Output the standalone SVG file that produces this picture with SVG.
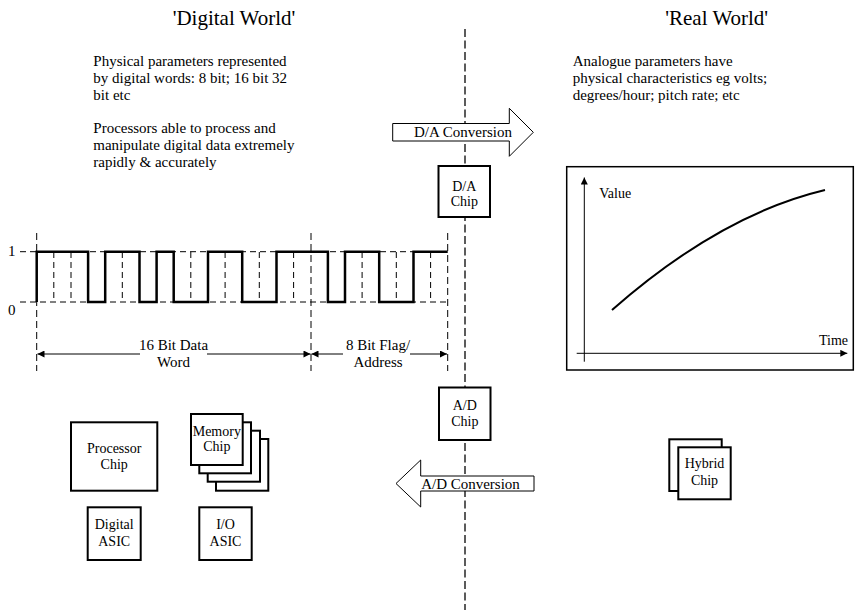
<svg xmlns="http://www.w3.org/2000/svg" width="857" height="610" viewBox="0 0 857 610">
<style>
text{font-family:"Liberation Serif","Times New Roman",serif;fill:#000}
.t21{font-size:21px}
.t15{font-size:15px}
.t14{font-size:14px}
.mid{text-anchor:middle}
.chip{fill:#fff;stroke:#000;stroke-width:2}
.blk{fill:#fff;stroke:#000;stroke-width:1}
.dash{fill:none;stroke:#000;stroke-width:1;stroke-dasharray:6 4}
.vdash{fill:none;stroke:#000;stroke-width:1;stroke-dasharray:7 4}
.dim{fill:none;stroke:#000;stroke-width:1}
</style>
<defs>
<marker id="ah" viewBox="0 0 10 10" refX="10" refY="5" markerWidth="9" markerHeight="7" markerUnits="userSpaceOnUse" orient="auto-start-reverse">
<path d="M0,0 L10,5 L0,10 z" fill="#000"/>
</marker>
</defs>
<rect width="857" height="610" fill="#fff"/>

<g id="divider">
<line x1="465" y1="29" x2="465" y2="610" stroke="#333" stroke-width="1.6" stroke-dasharray="8 3.5"/>
</g>

<g id="titles">
<text class="t21 mid" x="234" y="25">'Digital World'</text>
<text class="t21 mid" x="716.7" y="25">'Real World'</text>
</g>

<g id="digital-notes">
<text class="t15" x="93.3" y="66">Physical parameters represented</text>
<text class="t15" x="93.3" y="83">by digital words: 8 bit; 16 bit 32</text>
<text class="t15" x="93.3" y="100">bit etc</text>
<text class="t15" x="93.3" y="133">Processors able to process and</text>
<text class="t15" x="93.3" y="150">manipulate digital data extremely</text>
<text class="t15" x="93.3" y="167">rapidly &amp; accurately</text>
</g>

<g id="real-notes">
<text class="t15" x="572.7" y="66">Analogue parameters have</text>
<text class="t15" x="572.7" y="83">physical characteristics eg volts;</text>
<text class="t15" x="572.7" y="100">degrees/hour; pitch rate; etc</text>
</g>

<g id="waveform">
<text class="t15" x="8" y="256">1</text>
<text class="t15" x="8" y="315">0</text>
<line class="dash" x1="20" y1="251.7" x2="448" y2="251.7"/>
<line class="dash" x1="20" y1="302" x2="448" y2="302"/>
<g class="vdash">
<line x1="36.7" y1="233" x2="36.7" y2="371"/>
<line x1="311" y1="233" x2="311" y2="371"/>
<line x1="447.7" y1="233" x2="447.7" y2="371"/>
</g>
<g class="dash" stroke-dasharray="5 4">
<line x1="53.8" y1="252" x2="53.8" y2="302"/>
<line x1="71" y1="252" x2="71" y2="302"/>
<line x1="122.3" y1="252" x2="122.3" y2="302"/>
<line x1="190.8" y1="252" x2="190.8" y2="302"/>
<line x1="225.1" y1="252" x2="225.1" y2="302"/>
<line x1="259.3" y1="252" x2="259.3" y2="302"/>
<line x1="293.6" y1="252" x2="293.6" y2="302"/>
<line x1="362.1" y1="252" x2="362.1" y2="302"/>
<line x1="396.3" y1="252" x2="396.3" y2="302"/>
<line x1="430.6" y1="252" x2="430.6" y2="302"/>
</g>
<path d="M36.7,302 V251.7 H88.1 V302 H105.2 V251.7 H139.5 V302 H156.6 V251.7 H173.7 V302 H208 V251.7 H242.2 V302 H276.5 V251.7 H327.9 V302 H345 V251.7 H379.2 V302 H413.5 V251.7 H447.7" fill="none" stroke="#000" stroke-width="2.5" stroke-linejoin="miter"/>
<line class="dim" x1="37.5" y1="354" x2="140" y2="354" marker-start="url(#ah)"/>
<line class="dim" x1="207" y1="354" x2="310.5" y2="354" marker-end="url(#ah)"/>
<line class="dim" x1="311.5" y1="354" x2="343" y2="354" marker-start="url(#ah)"/>
<line class="dim" x1="410" y1="354" x2="447" y2="354" marker-end="url(#ah)"/>
<text class="t15 mid" x="173.5" y="350">16 Bit Data</text>
<text class="t15 mid" x="173.5" y="367">Word</text>
<text class="t15 mid" x="378" y="350">8 Bit Flag/</text>
<text class="t15 mid" x="378" y="367">Address</text>
</g>

<g id="connectors">
<g id="da-conversion">
<polygon class="blk" points="392.7,123.5 509.3,123.5 509.3,108.3 533.3,132.3 509.3,156.3 509.3,141 392.7,141"/>
<text class="t15 mid" x="463" y="137.3">D/A Conversion</text>
</g>
<g id="ad-conversion">
<polygon class="blk" points="396,483.5 420.7,460 420.7,476 534,476 534,491 420.7,491 420.7,507"/>
<text class="t15 mid" x="470.5" y="489">A/D Conversion</text>
</g>
</g>

<g id="da-chip">
<rect class="chip" x="438.5" y="166" width="51.5" height="51"/>
<text class="t14 mid" x="464.3" y="191">D/A</text>
<text class="t14 mid" x="464.3" y="205.5">Chip</text>
</g>

<g id="ad-chip">
<rect class="chip" x="439" y="387.5" width="51.5" height="52.5"/>
<text class="t14 mid" x="464.8" y="410">A/D</text>
<text class="t14 mid" x="464.8" y="426">Chip</text>
</g>

<g id="chart">
<rect x="566.7" y="166.7" width="286.6" height="203.3" fill="#fff" stroke="#000" stroke-width="1.5"/>
<line x1="584.3" y1="361.7" x2="584.3" y2="177.5" stroke="#000" stroke-width="1" marker-end="url(#ah)"/>
<line x1="576.7" y1="353.3" x2="847.3" y2="353.3" stroke="#000" stroke-width="1" marker-end="url(#ah)"/>
<path d="M612,310 Q720,215 825,190" fill="none" stroke="#000" stroke-width="2"/>
<text class="t14" x="599.3" y="198">Value</text>
<text class="t14" x="848" y="345" text-anchor="end">Time</text>
</g>

<g id="processor-chip">
<rect class="chip" x="71" y="422.3" width="86.3" height="68.4"/>
<text class="t14 mid" x="114.2" y="453">Processor</text>
<text class="t14 mid" x="114.2" y="469">Chip</text>
</g>

<g id="memory-chip">
<rect class="chip" x="216" y="439" width="52.3" height="51.7"/>
<rect class="chip" x="207.7" y="430.7" width="52.3" height="51"/>
<rect class="chip" x="199.3" y="422.3" width="51.7" height="51"/>
<rect class="chip" x="191" y="414" width="51.7" height="51"/>
<text class="t14 mid" x="216.8" y="435.5">Memory</text>
<text class="t14 mid" x="216.8" y="450.5">Chip</text>
</g>

<g id="digital-asic">
<rect class="chip" x="87.7" y="507.3" width="53" height="52.7"/>
<text class="t14 mid" x="114.2" y="529">Digital</text>
<text class="t14 mid" x="114.2" y="545.7">ASIC</text>
</g>

<g id="io-asic">
<rect class="chip" x="199.3" y="507.3" width="52.4" height="52.7"/>
<text class="t14 mid" x="225.5" y="529">I/O</text>
<text class="t14 mid" x="225.5" y="545.7">ASIC</text>
</g>

<g id="hybrid-chip">
<rect class="chip" x="669.3" y="439.3" width="52.4" height="51.7"/>
<rect class="chip" x="678.3" y="447.3" width="52.4" height="52"/>
<text class="t14 mid" x="704.5" y="468">Hybrid</text>
<text class="t14 mid" x="704.5" y="485">Chip</text>
</g>
</svg>
